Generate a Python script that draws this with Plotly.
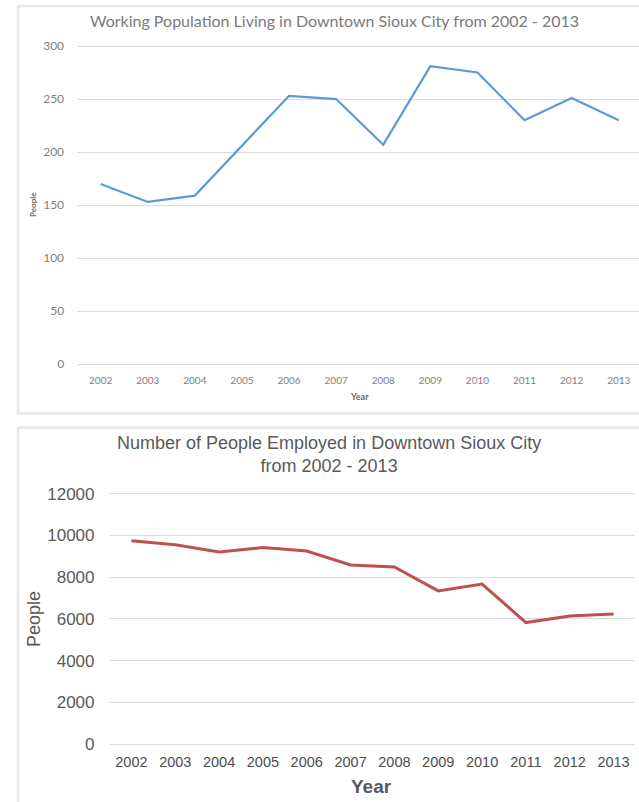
import plotly.graph_objects as go

# Data
years = ["2002", "2003", "2004", "2005", "2006", "2007",
         "2008", "2009", "2010", "2011", "2012", "2013"]
working_population = [170, 153, 159, 206, 253, 250, 207, 281, 275, 230, 251, 230]
people_employed = [9750, 9550, 9200, 9420, 9250, 8580, 8490, 7340, 7670, 5820, 6140, 6230]

W, H = 639, 802


def px_x(x):
    return x / W


def px_y(y):
    return 1 - y / H


fig = go.Figure()

fig.add_trace(go.Scatter(
    x=years, y=working_population, mode="lines",
    line=dict(color="#5B9BD5", width=2.2),
    xaxis="x", yaxis="y", showlegend=False, hoverinfo="x+y",
))
fig.add_trace(go.Scatter(
    x=years, y=people_employed, mode="lines",
    line=dict(color="#C0504D", width=3),
    xaxis="x2", yaxis="y2", showlegend=False, hoverinfo="x+y",
))

grid = "#dcdcdc"

# Top panel geometry (pixels)
t_left, t_step = 77.1, 47.1
t_zero, t_ppu = 364.3, (364.3 - 46.0) / 300
t_top_val = 305
t_top_px = t_zero - t_top_val * t_ppu

# Bottom panel geometry (pixels)
b_left, b_step = 109.5, 43.83
b_right = b_left + 12 * b_step
b_zero, b_ppu = 744.0, (744.0 - 493.7) / 12000
b_top_val = 12300
b_top_px = b_zero - b_top_val * b_ppu

top_font = "Lato, Calibri, 'Open Sans', sans-serif"
bot_font = "Arial, 'Liberation Sans', sans-serif"

fig.update_layout(
    template="none",
    width=W, height=H,
    margin=dict(l=0, r=0, t=0, b=0, autoexpand=False),
    paper_bgcolor="white", plot_bgcolor="white",
    xaxis=dict(
        domain=[px_x(t_left), 1.0], anchor="y", type="category",
        range=[-0.5, -0.5 + (W - t_left) / t_step], automargin=False,
        showgrid=False, zeroline=False, showline=False, ticks="",
        tickfont=dict(family=top_font, size=10, color="#7f7f7f"),
        ticklabelstandoff=9,
    ),
    yaxis=dict(
        domain=[px_y(t_zero), px_y(t_top_px)], anchor="x", automargin=False,
        range=[0, t_top_val], tickvals=[0, 50, 100, 150, 200, 250, 300],
        showgrid=True, gridcolor=grid, gridwidth=1,
        zeroline=True, zerolinecolor=grid, zerolinewidth=1,
        showline=False, ticks="",
        tickfont=dict(family=top_font, size=12, color="#7f7f7f"),
        ticklabelstandoff=12,
    ),
    xaxis2=dict(
        domain=[px_x(b_left), px_x(b_right)], anchor="y2", type="category",
        range=[-0.5, 11.5], automargin=False,
        showgrid=False, zeroline=False, showline=False, ticks="",
        tickfont=dict(family=bot_font, size=14.5, color="#4d4d4d"),
        ticklabelstandoff=7,
    ),
    yaxis2=dict(
        domain=[px_y(b_zero), px_y(b_top_px)], anchor="x2", automargin=False,
        range=[0, b_top_val],
        tickvals=[0, 2000, 4000, 6000, 8000, 10000, 12000], tickformat="d",
        showgrid=True, gridcolor=grid, gridwidth=1,
        zeroline=True, zerolinecolor=grid, zerolinewidth=1,
        showline=False, ticks="",
        tickfont=dict(family=bot_font, size=17, color="#595959"),
        ticklabelstandoff=14,
    ),
)

# Panel frames
frame = "#e8e8e8"
fig.add_shape(type="rect", xref="paper", yref="paper",
              x0=px_x(18), x1=1.2, y0=px_y(413.5), y1=px_y(6),
              line=dict(color=frame, width=2.5), fillcolor="rgba(0,0,0,0)", layer="below")
fig.add_shape(type="rect", xref="paper", yref="paper",
              x0=px_x(18), x1=1.2, y0=-0.2, y1=px_y(427.5),
              line=dict(color=frame, width=2.5), fillcolor="rgba(0,0,0,0)", layer="below")

annotations = [
    dict(text="Working Population Living in Downtown Sioux City from 2002 - 2013",
         x=px_x(334), y=px_y(21), font=dict(family=top_font, size=16, color="#7a7a7a")),
    dict(text="<b>Year</b>", x=px_x(359), y=px_y(396),
         font=dict(family=top_font, size=9, color="#6a6a6a")),
    dict(text="<b>People</b>", x=px_x(33), y=px_y(205), textangle=-90,
         font=dict(family=top_font, size=8, color="#6a6a6a")),
    dict(text="Number of People Employed in Downtown Sioux City<br>from 2002 - 2013",
         x=px_x(329), y=px_y(454), font=dict(family=bot_font, size=18, color="#595959")),
    dict(text="<b>Year</b>", x=px_x(371), y=px_y(786),
         font=dict(family=bot_font, size=19, color="#595959")),
    dict(text="People", x=px_x(34), y=px_y(619), textangle=-90,
         font=dict(family=bot_font, size=18, color="#595959")),
]
for a in annotations:
    fig.add_annotation(xref="paper", yref="paper", showarrow=False,
                       xanchor="center", yanchor="middle", **a)

fig.write_html("out.html")
